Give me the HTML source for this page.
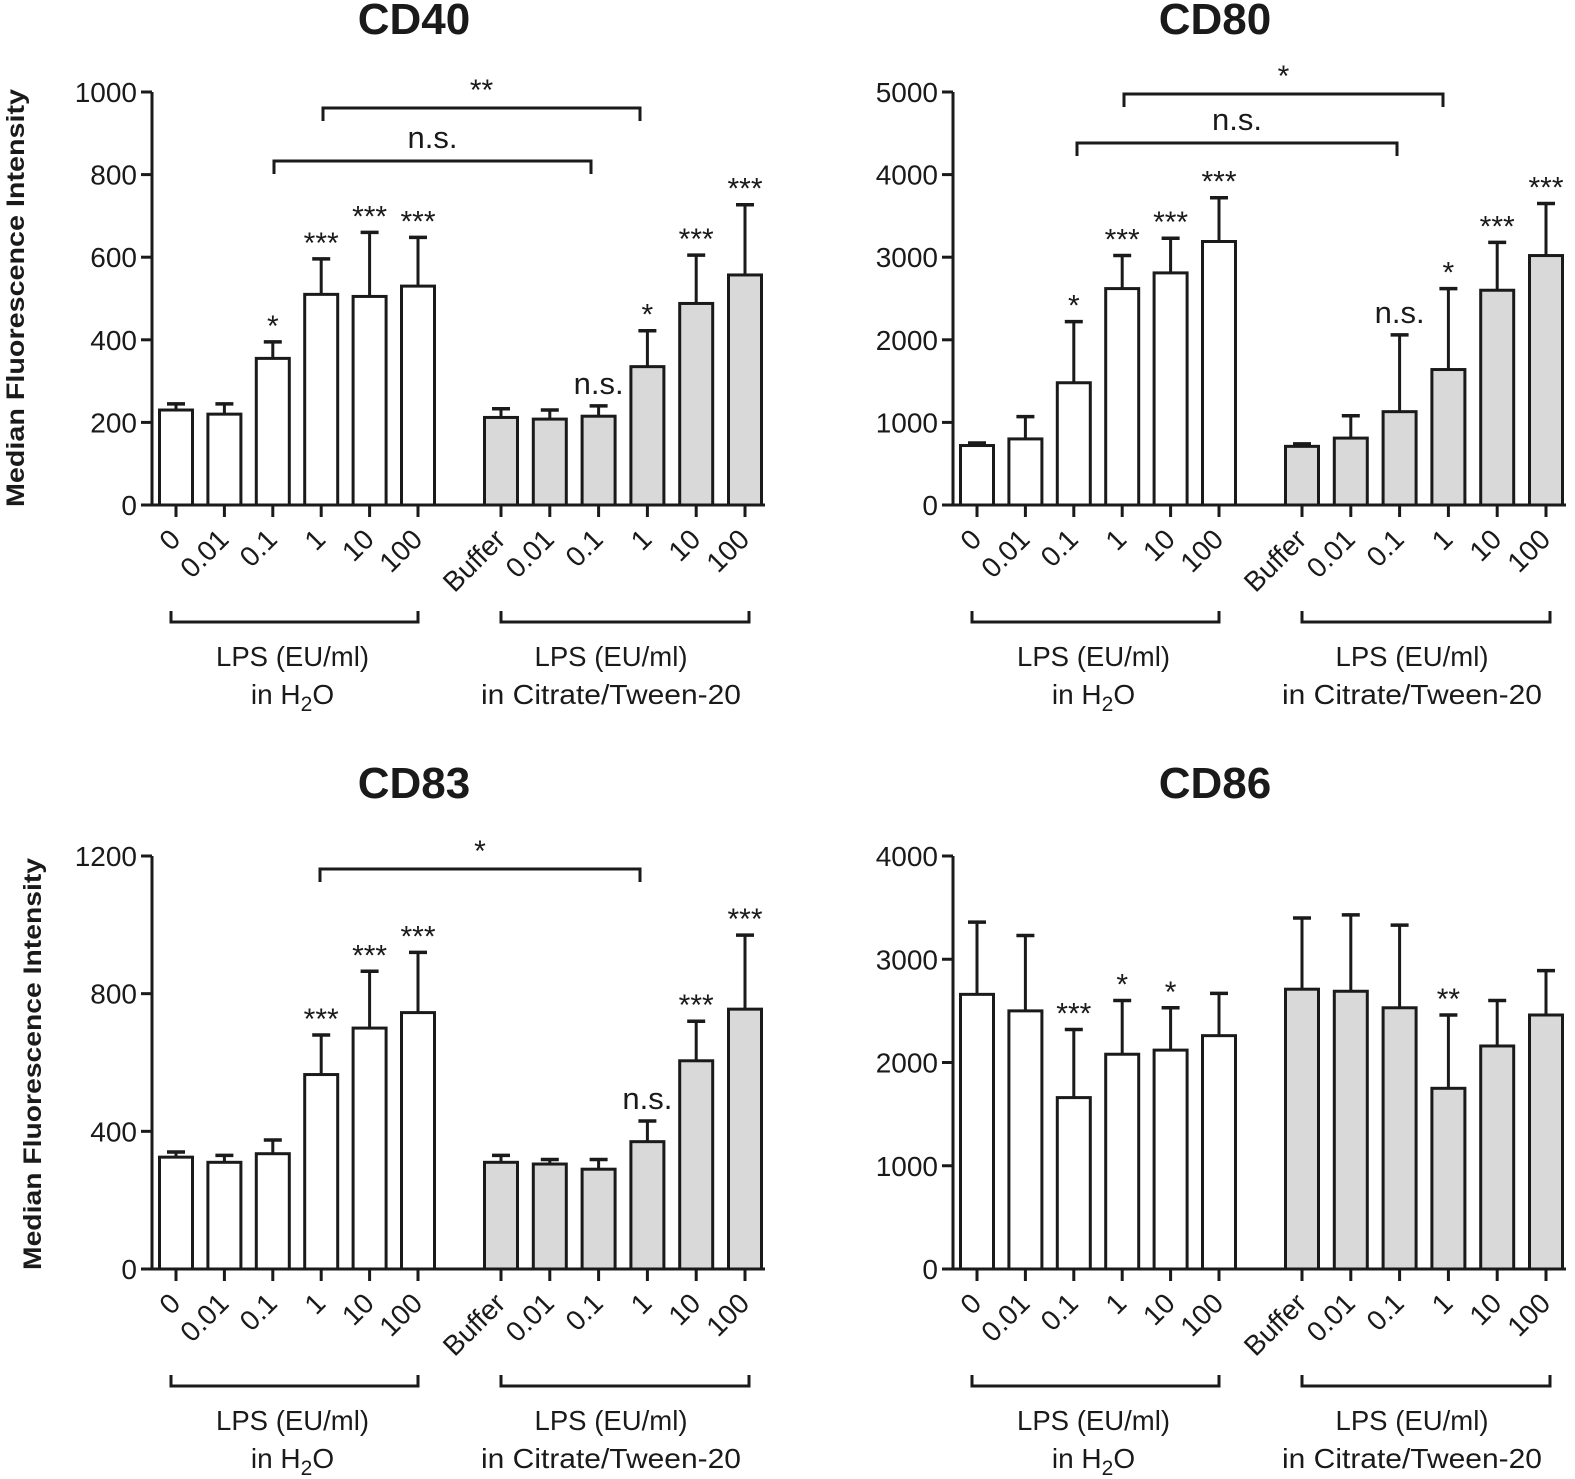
<!DOCTYPE html>
<html><head><meta charset="utf-8"><style>
html,body{margin:0;padding:0;background:#fff;}
svg{display:block;font-family:"Liberation Sans",sans-serif;}
</style></head><body>
<svg id="s" xmlns="http://www.w3.org/2000/svg" width="1575" height="1479" viewBox="0 0 1575 1479"></svg>
<script>
const S=document.getElementById('s');let h='';
const C='#1a1a1a';
function panel(ox,oy,title,max,step,vals,errs,stars,sig){
  const y0=505+oy, yt=92+oy, ax=152+ox, axEnd=765+ox;
  const sc=(y0-yt)/max; const Y=v=>y0-v*sc;
  const xs=[];for(let i=0;i<6;i++)xs.push(176+ox+48.4*i);for(let i=0;i<6;i++)xs.push(501+ox+48.8*i);
  h+=`<text x="${414+ox}" y="${34+oy}" font-size="44" font-weight="bold" text-anchor="middle" fill="${C}">${title}</text>`;
  for(let i=0;i<12;i++){
    const x=xs[i],v=vals[i],e=errs[i];
    h+=`<line x1="${x}" y1="${Y(e)}" x2="${x}" y2="${Y(v)}" stroke="${C}" stroke-width="3"/>`;
    h+=`<line x1="${x-9}" y1="${Y(e)}" x2="${x+9}" y2="${Y(e)}" stroke="${C}" stroke-width="3.5"/>`;
    h+=`<rect x="${x-16.5}" y="${Y(v)}" width="33" height="${y0-Y(v)}" fill="${i<6?'#fff':'#d9d9d9'}" stroke="${C}" stroke-width="3"/>`;
    const st=stars[i];
    if(st){
      if(st==='n.s.') h+=`<text x="${x}" y="${Y(e)-12}" font-size="31" text-anchor="middle" fill="${C}">n.s.</text>`;
      else h+=`<text x="${x}" y="${Y(e)-6}" font-size="30" text-anchor="middle" fill="${C}">${st}</text>`;
    }
  }
  h+=`<line x1="${ax}" y1="${yt}" x2="${ax}" y2="${y0+1.5}" stroke="${C}" stroke-width="3"/>`;
  h+=`<line x1="${ax-1.5}" y1="${y0}" x2="${axEnd}" y2="${y0}" stroke="${C}" stroke-width="3"/>`;
  for(let v=0;v<=max;v+=step){
    h+=`<line x1="${ax-11}" y1="${Y(v)}" x2="${ax}" y2="${Y(v)}" stroke="${C}" stroke-width="3"/>`;
    h+=`<text x="${ax-15}" y="${Y(v)+10}" font-size="28" text-anchor="end" fill="${C}">${v}</text>`;
  }
  const labs=['0','0.01','0.1','1','10','100','Buffer','0.01','0.1','1','10','100'];
  for(let i=0;i<12;i++){
    const x=xs[i];
    h+=`<line x1="${x}" y1="${y0}" x2="${x}" y2="${y0+12}" stroke="${C}" stroke-width="3"/>`;
    h+=`<text transform="translate(${x+6},${y0+36}) rotate(-45)" font-size="28" text-anchor="end" fill="${C}">${labs[i]}</text>`;
  }
  const by=622+oy;
  [[171+ox,418+ox,'in H<tspan font-size="21" dy="7">2</tspan><tspan dy="-7">O</tspan>',0,-2],[501+ox,749+ox,'in Citrate/Tween-20',260,-14]].forEach(([a,b,t,tl,sh])=>{
    h+=`<path d="M${a} ${by-11} V${by} H${b} V${by-11}" fill="none" stroke="${C}" stroke-width="3"/>`;
    const cx=(a+b)/2+sh;
    h+=`<text x="${cx}" y="${666+oy}" font-size="28" text-anchor="middle" textLength="153" lengthAdjust="spacingAndGlyphs" fill="${C}">LPS (EU/ml)</text>`;
    h+=`<text x="${cx}" y="${704+oy}" font-size="28" text-anchor="middle" ${tl?`textLength="${tl}" lengthAdjust="spacingAndGlyphs"`:''} fill="${C}">${t}</text>`;
  });
  sig.forEach(([a,b,y,t,ty,fs])=>{
    h+=`<path d="M${a+ox} ${y+oy+13} V${y+oy} H${b+ox} V${y+oy+13}" fill="none" stroke="${C}" stroke-width="3"/>`;
    h+=`<text x="${(a+b)/2+ox}" y="${ty+oy}" font-size="${fs}" text-anchor="middle" fill="${C}">${t}</text>`;
  });
}
h+=`<text transform="translate(24,298) rotate(-90)" font-size="25" font-weight="bold" text-anchor="middle" textLength="418" lengthAdjust="spacingAndGlyphs" fill="${C}">Median Fluorescence Intensity</text>`;
h+=`<text transform="translate(41,1064) rotate(-90)" font-size="25" font-weight="bold" text-anchor="middle" textLength="412" lengthAdjust="spacingAndGlyphs" fill="${C}">Median Fluorescence Intensity</text>`;

panel(0,0,'CD40',1000,200,
 [230,220,355,510,505,530,212,208,215,335,488,557],
 [245,245,395,596,660,648,233,230,240,422,605,727],
 ['','','*','***','***','***','','','n.s.','*','***','***'],
 [[323,640,108,'**',100,30],[274,591,161,'n.s.',148,31]]);
panel(801,0,'CD80',5000,1000,
 [720,800,1480,2620,2810,3190,710,810,1130,1640,2600,3020],
 [750,1070,2220,3020,3230,3720,740,1080,2060,2620,3180,3650],
 ['','','*','***','***','***','','','n.s.','*','***','***'],
 [[323,642,94,'*',86,30],[276,596,143,'n.s.',130,31]]);
panel(0,764,'CD83',1200,400,
 [325,310,335,565,700,745,310,305,290,370,605,755],
 [340,330,375,680,865,920,330,318,318,430,720,970],
 ['','','','***','***','***','','','','n.s.','***','***'],
 [[320,640,105,'*',97,30]]);
panel(801,764,'CD86',4000,1000,
 [2660,2500,1660,2080,2120,2260,2710,2690,2530,1750,2160,2460],
 [3360,3230,2320,2600,2530,2670,3400,3430,3330,2460,2600,2890],
 ['','','***','*','*','','','','','**','',''],
 []);
S.innerHTML=h;
</script>
</body></html>
